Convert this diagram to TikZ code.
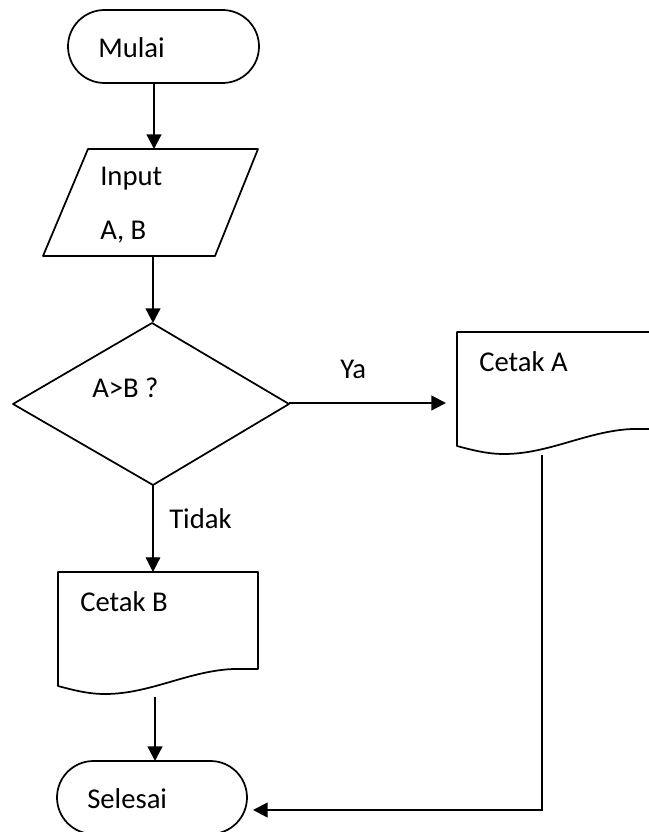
\documentclass[tikz,border=0pt]{standalone}
\usepackage{fontspec}
\setmainfont{Carlito}
\usetikzlibrary{arrows.meta}
\tikzset{
  shapeline/.style={draw=black, line width=1.3pt, line join=round},
  flow/.style={draw=black, line width=1.7pt, -{Triangle[width=11pt,length=11pt]}},
  thinflow/.style={draw=black, line width=0.9pt, -{Triangle[width=11pt,length=11pt]}},
  lbl/.style={anchor=base west, inner sep=0pt, font=\fontsize{21.5pt}{26pt}\selectfont},
  docshape/.pic={
    \draw[shapeline] (0,0) -- (200,0) -- (200,97) -- (175,97)
      .. controls (130,99) and (92,122) .. (47,122)
      .. controls (30,122) and (15,118) .. (0,114) -- cycle;
  }
}
\begin{document}
\begin{tikzpicture}[x=0.75pt, y=-0.75pt]
\useasboundingbox (0,0) rectangle (649,832);
\clip (0,0) rectangle (649,832);
\fill[white] (0,0) rectangle (649,832);

% Mulai
\draw[shapeline, rounded corners=36.5*0.75pt] (68,10) rectangle (259,83);
\node[lbl] (mulai) at (98,57) {Mulai};
\coordinate (mulaiS) at (154,83);

% Input
\draw[shapeline] (88,149) -- (258,149) -- (215,256) -- (43,256) -- cycle;
\node[lbl] (input) at (100,185) {Input};
\node[lbl] (ab) at (100,239) {A, B};
\coordinate (inputN) at (154,149);
\coordinate (inputS) at (153,256);

% Decision
\draw[shapeline] (152,323) -- (289,404) -- (153,485) -- (13,404) -- cycle;
\node[lbl] (cond) at (92,397) {A>B ?};
\coordinate (decN) at (153,323);
\coordinate (decE) at (289,403);
\coordinate (decS) at (153,485);

% Cetak A
\pic at (457,332) {docshape};
\node[lbl] (cetakA) at (479,371) {Cetak A};
\coordinate (cetakAW) at (446,403);
\coordinate (cetakAS) at (542,455);
\coordinate (corner) at (542,810);

% Cetak B
\pic at (58,572) {docshape};
\node[lbl] (cetakB) at (80,611) {Cetak B};
\coordinate (cetakBN) at (153,572);
\coordinate (cetakBS) at (155,697);

% Selesai
\draw[shapeline, rounded corners=36.5*0.75pt] (57,761) rectangle (247,834);
\node[lbl] (selesai) at (87,808) {Selesai};
\coordinate (selesaiN) at (155,761);
\coordinate (selesaiE) at (253,810);

% Labels
\node[lbl] (ya) at (340,378) {Ya};
\node[lbl] (tidak) at (169,528) {Tidak};

% Connectors
\draw[flow] (mulaiS) -- (inputN);
\draw[flow] (inputS) -- (decN);
\draw[flow] (decE) -- (cetakAW);
\draw[thinflow] (decS) -- (cetakBN);
\draw[flow] (cetakBS) -- (selesaiN);
\draw[flow] (cetakAS) -- (corner) -- (selesaiE);
\end{tikzpicture}
\end{document}
